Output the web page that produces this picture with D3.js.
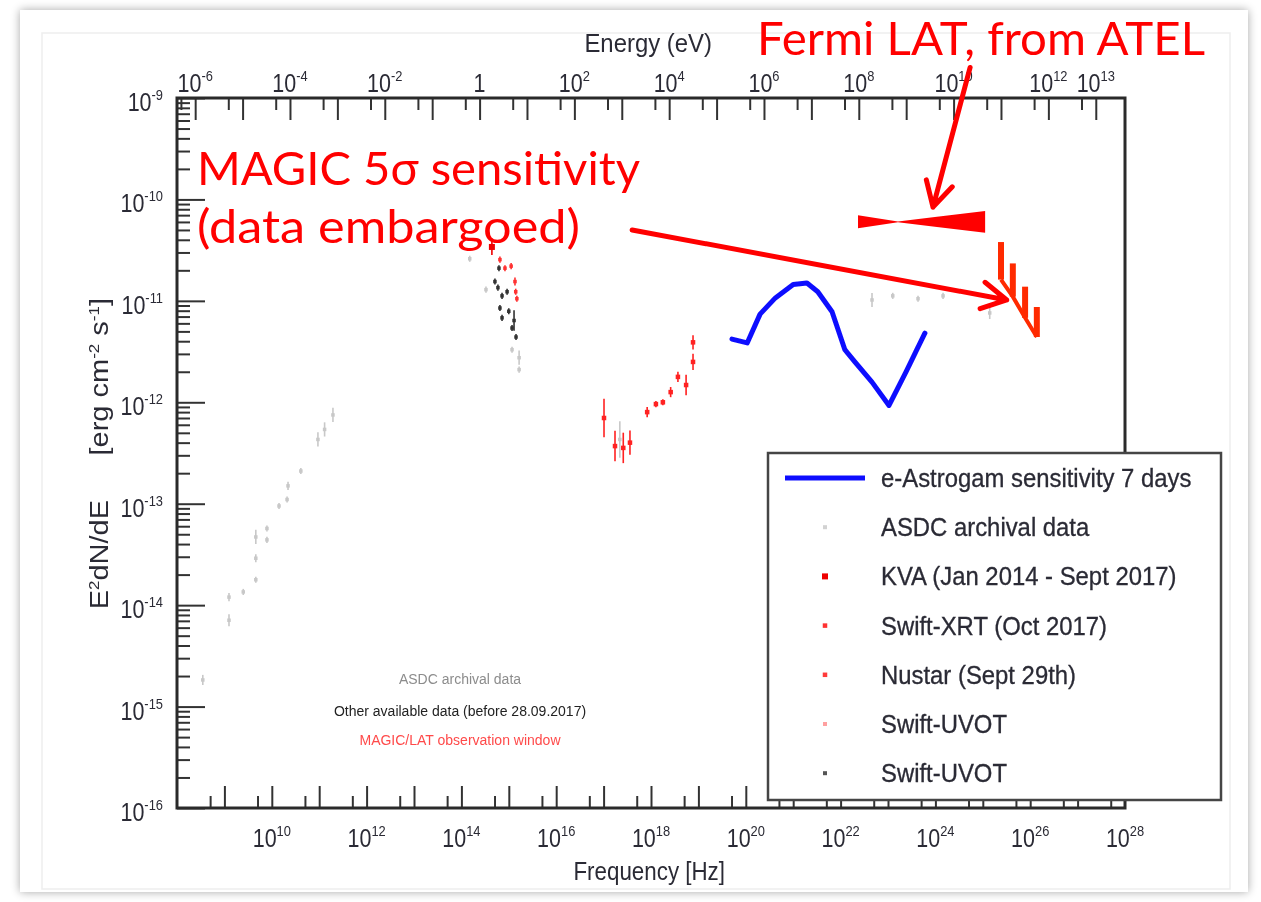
<!DOCTYPE html>
<html>
<head>
<meta charset="utf-8">
<script src="https://cdn.jsdelivr.net/npm/d3@7"></script>
<style>
  body { margin: 0; background: #fff; }
  svg { display: block; }
</style>
</head>
<body>
<div id="chart"></div>
<script>
// ---- values ----

// e-Astrogam sensitivity, 7 days (blue line)
const astrogamNu   = [5.1e19, 1.07e20, 2.0e20, 4.2e20, 1.0e21, 1.95e21, 3.3e21, 6.6e21, 1.23e22, 2.0e22, 4.6e22, 1.05e23, 2.4e23, 6.0e23];
const astrogamFlux = [4.2e-12, 3.85e-12, 7.4e-12, 1.07e-11, 1.45e-11, 1.5e-11, 1.23e-11, 7.8e-12, 3.3e-12, 2.5e-12, 1.58e-12, 9.3e-13, 2.0e-12, 4.8e-12];

// ASDC archival data (light grey), error half-width in dex
const asdcNu   = [3.5e8, 1.25e9, 1.25e9, 2.5e9, 4.6e9, 4.6e9, 4.6e9, 7.9e9, 7.9e9, 1.42e10, 2.1e10, 2.2e10, 4.1e10, 9.4e10, 1.3e11, 1.95e11,
                  1.5e14, 3.3e14, 1.17e15, 1.65e15, 1.65e15, 2.2e17, 4.6e22, 1.26e23, 4.3e23, 1.45e24, 1.4e25];
const asdcFlux = [1.83e-15, 1.2e-14, 7.1e-15, 1.35e-14, 4.7e-14, 2.9e-14, 1.78e-14, 5.7e-14, 4.4e-14, 9.5e-14, 1.1e-13, 1.5e-13, 2.1e-13, 4.3e-13, 5.4e-13, 7.5e-13,
                  2.6e-11, 1.29e-11, 3.3e-12, 2.75e-12, 2.1e-12, 4.3e-13, 1.02e-11, 1.12e-11, 1.05e-11, 1.12e-11, 7.6e-12];
const asdcErr  = [0.05, 0.04, 0.06, 0.03, 0.07, 0.04, 0.03, 0.03, 0.03, 0.03, 0.03, 0.04, 0.03, 0.07, 0.07, 0.07,
                  0.03, 0.03, 0.03, 0.07, 0.03, 0.18, 0.07, 0.03, 0.03, 0.03, 0.06];

// KVA (Jan 2014 - Sept 2017)
const kvaNu   = [4.4e14];
const kvaFlux = [3.4e-11];
const kvaErr  = [0.08];

// Swift-XRT (Oct 2017)
const xrtNu   = [1.02e17, 1.74e17, 2.6e17, 3.6e17, 8.3e17, 1.27e18, 1.78e18, 2.6e18, 3.7e18];
const xrtFlux = [7.0e-13, 3.7e-13, 3.55e-13, 4.0e-13, 8.0e-13, 9.6e-13, 1.0e-12, 1.26e-12, 1.78e-12];
const xrtErr  = [0.19, 0.15, 0.15, 0.12, 0.05, 0.03, 0.03, 0.05, 0.05];

// Nustar (Sept 29th)
const nustarNu   = [5.5e18, 7.7e18, 7.7e18];
const nustarFlux = [1.48e-12, 3.9e-12, 2.5e-12];
const nustarErr  = [0.1, 0.07, 0.08];

// Swift-UVOT (red)
const uvotRedNu   = [6.5e14, 8.3e14, 1.12e15, 1.35e15, 1.4e15, 1.48e15];
const uvotRedFlux = [2.55e-11, 2.1e-11, 2.2e-11, 1.55e-11, 1.23e-11, 1.05e-11];
const uvotRedErr  = [0.03, 0.03, 0.03, 0.04, 0.03, 0.03];

// Swift-UVOT (dark)
const uvotDarkNu   = [6.2e14, 5.1e14, 5.9e14, 7.2e14, 9.2e14, 6.5e14, 7.2e14, 1.0e15, 1.29e15, 1.17e15, 1.42e15];
const uvotDarkFlux = [2.1e-11, 1.55e-11, 1.35e-11, 1.12e-11, 1.23e-11, 8.5e-12, 6.8e-12, 7.9e-12, 6.4e-12, 5.4e-12, 4.4e-12];
const uvotDarkErr  = [0.03, 0.03, 0.03, 0.03, 0.03, 0.03, 0.03, 0.03, 0.1, 0.03, 0.03];

// Fermi LAT bowtie (from ATEL): low end, pivot, high end
const fermiNu    = [2.33e22, 1.62e23, 1.12e25];
const fermiUpper = [7.0e-11, 6.05e-11, 7.7e-11];
const fermiLower = [5.2e-11, 5.95e-11, 4.7e-11];

// MAGIC 5 sigma sensitivity bins
const magicNu     = [2.42e25, 4.3e25, 7.8e25, 1.38e26];
const magicTop    = [3.8e-11, 2.34e-11, 1.38e-11, 8.7e-12];
const magicBottom = [1.62e-11, 1.1e-11, 6.8e-12, 4.4e-12];

// axis ticks
const freqExponents   = [10, 12, 14, 16, 18, 20, 22, 24, 26, 28];
const energyExponents = [-6, -4, -2, 0, 2, 4, 6, 8, 10, 12, 13];
const fluxExponents   = [-9, -10, -11, -12, -13, -14, -15, -16];

// legend
const legendLabels = ['e-Astrogam sensitivity 7 days', 'ASDC archival data', 'KVA (Jan 2014 - Sept 2017)',
                      'Swift-XRT (Oct 2017)', 'Nustar (Sept 29th)', 'Swift-UVOT', 'Swift-UVOT'];

// ---- layout ----
const W = 1261, H = 902;
const plot = { left: 177, right: 1125, top: 98, bottom: 808 };
const eVperHz = 4.1357e-15;
const sq = 0.86; // ROOT text in the picture is horizontally squeezed
const inkDark = '#2b2b35';
const red = '#ff0000';

const x = d3.scaleLog().domain([1e8, 1e28]).range([plot.left, plot.right]);
const y = d3.scaleLog().domain([1e-16, 1e-9]).range([plot.bottom, plot.top]);

const svg = d3.select('#chart').append('svg')
    .attr('width', W)
    .attr('height', H)
    .style('font-family', '"Liberation Sans", Arial, sans-serif');

// slide frame / shadow
const defs = svg.append('defs');
const shadow = defs.append('filter').attr('id', 'shadow').attr('x', '-5%').attr('y', '-5%').attr('width', '110%').attr('height', '110%');
shadow.append('feGaussianBlur').attr('in', 'SourceAlpha').attr('stdDeviation', 5);
shadow.append('feComponentTransfer').append('feFuncA').attr('type', 'linear').attr('slope', 0.35);
const merge = shadow.append('feMerge');
merge.append('feMergeNode');
merge.append('feMergeNode').attr('in', 'SourceGraphic');
// the picture is a soft, slightly blurred screenshot
defs.append('filter').attr('id', 'soft')
    .append('feGaussianBlur').attr('stdDeviation', 0.55);

svg.append('rect').attr('width', W).attr('height', H).attr('fill', '#fff');
svg.append('rect')
    .attr('x', 20).attr('y', 10).attr('width', 1228).attr('height', 882)
    .attr('fill', '#fff')
    .attr('filter', 'url(#shadow)');
svg.append('rect')
    .attr('x', 42).attr('y', 33).attr('width', 1188).attr('height', 856)
    .attr('fill', 'none').attr('stroke', '#eeeeee').attr('stroke-width', 1.5);

const g = svg.append('g').attr('filter', 'url(#soft)');

// helper: "10^n" label, squeezed like the original
function powerLabel(parent, px, py, exp, anchor) {
    const t = parent.append('text')
        .attr('transform', `translate(${px},${py}) scale(${sq},1)`)
        .attr('text-anchor', anchor)
        .attr('fill', inkDark)
        .style('font-size', '25px');
    if (exp === 0) {
        t.text('1');
        return t;
    }
    t.append('tspan').text('10');
    t.append('tspan').attr('dy', -11).style('font-size', '15px').text(exp);
    return t;
}

// ---- axes (ticks point inwards, ROOT style) ----
const decadesX = d3.range(9, 28).map(e => Math.pow(10, e));
const minorX = d3.range(9, 29).map(e => 5 * Math.pow(10, e - 1));

g.append('g')
    .attr('transform', `translate(0,${plot.bottom})`)
    .call(d3.axisBottom(x).tickValues(decadesX).tickSize(-22).tickSizeOuter(0).tickFormat(''))
    .call(a => a.select('.domain').remove());
g.append('g')
    .attr('transform', `translate(0,${plot.bottom})`)
    .call(d3.axisBottom(x).tickValues(minorX).tickSize(-12).tickSizeOuter(0).tickFormat(''))
    .call(a => a.select('.domain').remove());

const energyMajor = d3.range(-6, 14).map(e => Math.pow(10, e) / eVperHz);
const energyMinor = d3.range(-6, 14).map(e => 0.5 * Math.pow(10, e) / eVperHz);
g.append('g')
    .attr('transform', `translate(0,${plot.top})`)
    .call(d3.axisTop(x).tickValues(energyMajor).tickSize(-22).tickSizeOuter(0).tickFormat(''))
    .call(a => a.select('.domain').remove());
g.append('g')
    .attr('transform', `translate(0,${plot.top})`)
    .call(d3.axisTop(x).tickValues(energyMinor.filter(v => v > 1e8)).tickSize(-12).tickSizeOuter(0).tickFormat(''))
    .call(a => a.select('.domain').remove());

const decadesY = d3.range(-16, -8).map(e => Math.pow(10, e));
const minorY = [];
d3.range(-16, -9).forEach(e => { for (let m = 2; m <= 9; m++) minorY.push(m * Math.pow(10, e)); });
g.append('g')
    .attr('transform', `translate(${plot.left},0)`)
    .call(d3.axisLeft(y).tickValues(decadesY).tickSize(-28).tickSizeOuter(0).tickFormat(''))
    .call(a => a.select('.domain').remove());
g.append('g')
    .attr('transform', `translate(${plot.left},0)`)
    .call(d3.axisLeft(y).tickValues(minorY).tickSize(-13).tickSizeOuter(0).tickFormat(''))
    .call(a => a.select('.domain').remove());

g.selectAll('.tick line').attr('stroke', '#333').attr('stroke-width', 2);

// frame
g.append('rect')
    .attr('x', plot.left).attr('y', plot.top)
    .attr('width', plot.right - plot.left).attr('height', plot.bottom - plot.top)
    .attr('fill', 'none').attr('stroke', '#2a2a2a').attr('stroke-width', 3);

// tick labels
freqExponents.forEach(e => powerLabel(g, x(Math.pow(10, e)), plot.bottom + 39, e, 'middle'));
energyExponents.forEach(e => powerLabel(g, x(Math.pow(10, e) / eVperHz), plot.top - 6, e, 'middle'));
fluxExponents.forEach(e => powerLabel(g, 163, y(Math.pow(10, e)) + 13, e, 'end'));

// axis titles
g.append('text')
    .attr('transform', `translate(725,880) scale(${sq},1)`)
    .attr('text-anchor', 'end').attr('fill', inkDark).style('font-size', '26px')
    .text('Frequency [Hz]');
g.append('text')
    .attr('transform', 'translate(712,52) scale(0.92,1)')
    .attr('text-anchor', 'end').attr('fill', inkDark).style('font-size', '26px')
    .text('Energy (eV)');

// y title: two pieces, rotated, glyph height squeezed like the rest.
// parts: [text, isSuperscript]
function richText(t, parts) {
    let raised = false;
    parts.forEach(([s, isSup]) => {
        const ts = t.append('tspan').text(s);
        if (isSup && !raised) { ts.attr('dy', -10).style('font-size', '17px'); raised = true; }
        else if (isSup) { ts.style('font-size', '17px'); }
        else if (raised) { ts.attr('dy', 10); raised = false; }
    });
}
const yUnit = g.append('text')
    .attr('transform', `translate(108,298) rotate(-90) scale(1,${sq})`)
    .attr('text-anchor', 'end').attr('fill', inkDark).style('font-size', '29px');
richText(yUnit, [['[erg cm', false], ['-2', true], [' s', false], ['-1', true], [']', false]]);

const yName = g.append('text')
    .attr('transform', `translate(108,500) rotate(-90) scale(1,${sq})`)
    .attr('text-anchor', 'end').attr('fill', inkDark).style('font-size', '29px');
richText(yName, [['E', false], ['2', true], ['dN/dE', false]]);

// ---- data points ----
function drawPoints(nu, flux, err, color, size) {
    const pts = nu.map((v, i) => ({ nu: v, flux: flux[i], err: err[i] }));
    const grp = g.append('g');
    grp.selectAll('line')
        .data(pts)
        .enter().append('line')
        .attr('x1', d => x(d.nu)).attr('x2', d => x(d.nu))
        .attr('y1', d => y(d.flux * Math.pow(10, d.err)))
        .attr('y2', d => y(d.flux / Math.pow(10, d.err)))
        .attr('stroke', color).attr('stroke-width', 1.6);
    grp.selectAll('rect')
        .data(pts)
        .enter().append('rect')
        .attr('x', d => x(d.nu) - size / 2)
        .attr('y', d => y(d.flux) - size / 2)
        .attr('width', size).attr('height', size)
        .attr('fill', color);
}

drawPoints(asdcNu, asdcFlux, asdcErr, '#c8c8c8', 3.5);
drawPoints(uvotDarkNu, uvotDarkFlux, uvotDarkErr, '#333333', 3.5);
drawPoints(uvotRedNu, uvotRedFlux, uvotRedErr, '#ff3030', 3.5);
drawPoints(kvaNu, kvaFlux, kvaErr, '#ee0000', 6);
drawPoints(xrtNu, xrtFlux, xrtErr, '#ff2020', 4.5);
drawPoints(nustarNu, nustarFlux, nustarErr, '#ff2020', 4.5);

// e-Astrogam sensitivity
const astrogam = astrogamNu.map((v, i) => ({ nu: v, flux: astrogamFlux[i] }));
g.append('path')
    .datum(astrogam)
    .attr('fill', 'none')
    .attr('stroke', '#1010ff')
    .attr('stroke-width', 5)
    .attr('stroke-linejoin', 'round')
    .attr('stroke-linecap', 'round')
    .attr('d', d3.line().x(d => x(d.nu)).y(d => y(d.flux)));

// Fermi LAT bowtie
const bowtie = fermiNu.map((v, i) => [x(v), y(fermiUpper[i])])
    .concat(fermiNu.map((v, i) => [x(v), y(fermiLower[i])]).reverse());
g.append('path')
    .attr('d', d3.line()(bowtie) + 'Z')
    .attr('fill', '#ff0000');

// MAGIC sensitivity sawtooth
const magicColor = '#ff2a00';
g.append('path')
    .datum(magicNu.map((v, i) => [x(v), y(magicBottom[i])]))
    .attr('fill', 'none').attr('stroke', magicColor).attr('stroke-width', 4)
    .attr('d', d3.line());
g.selectAll('.magic-bar')
    .data(magicNu)
    .enter().append('line')
    .attr('class', 'magic-bar')
    .attr('x1', d => x(d)).attr('x2', d => x(d))
    .attr('y1', (d, i) => y(magicTop[i]))
    .attr('y2', (d, i) => y(magicBottom[i]))
    .attr('stroke', magicColor).attr('stroke-width', 6);

// ---- small ROOT text block ----
const notes = [
    { text: 'ASDC archival data', color: '#8c8c8c', yy: 684 },
    { text: 'Other available data (before 28.09.2017)', color: '#222', yy: 716 },
    { text: 'MAGIC/LAT observation window', color: '#ff4a4a', yy: 745 }
];
notes.forEach(n => {
    g.append('text')
        .attr('x', 460).attr('y', n.yy)
        .attr('text-anchor', 'middle')
        .attr('fill', n.color)
        .style('font-size', '14px')
        .text(n.text);
});

// ---- legend ----
const legend = g.append('g');
legend.append('rect')
    .attr('x', 768).attr('y', 453).attr('width', 453).attr('height', 347)
    .attr('fill', '#fff').attr('stroke', '#444').attr('stroke-width', 2.5);
const legendMarkers = [
    { color: '#1010ff', size: 0 },
    { color: '#d2d2d2', size: 4 },
    { color: '#ee0000', size: 6 },
    { color: '#ff3030', size: 4.5 },
    { color: '#ff3a3a', size: 4.5 },
    { color: '#ffa0a0', size: 4 },
    { color: '#555555', size: 4 }
];
legendLabels.forEach((label, i) => {
    const ly = 478 + i * 49.2;
    const m = legendMarkers[i];
    if (i === 0) {
        legend.append('line')
            .attr('x1', 785).attr('x2', 865).attr('y1', ly).attr('y2', ly)
            .attr('stroke', m.color).attr('stroke-width', 5);
    } else {
        legend.append('rect')
            .attr('x', 825 - m.size / 2).attr('y', ly - m.size / 2)
            .attr('width', m.size).attr('height', m.size)
            .attr('fill', m.color);
    }
    legend.append('text')
        .attr('transform', `translate(881,${ly + 9}) scale(0.955,1)`)
        .attr('fill', inkDark)
        .attr('stroke', inkDark).attr('stroke-width', 0.3)
        .style('font-size', '25px')
        .text(label);
});

// ---- red slide annotations ----
const ann = svg.append('g')
    .style('font-family', 'Lato, "Open Sans", sans-serif')
    .attr('fill', red);
ann.append('text').attr('x', 757).attr('y', 55).style('font-size', '46px')
    .attr('textLength', 448).attr('lengthAdjust', 'spacingAndGlyphs')
    .text('Fermi LAT, from ATEL');
ann.append('text').attr('x', 197).attr('y', 185).style('font-size', '46px')
    .attr('textLength', 443).attr('lengthAdjust', 'spacingAndGlyphs')
    .text('MAGIC 5σ sensitivity');
ann.append('text').attr('x', 197).attr('y', 243).style('font-size', '46px')
    .attr('textLength', 383).attr('lengthAdjust', 'spacingAndGlyphs')
    .text('(data embargoed)');

// arrows, anchored in data space
const arrows = [
    { from: [5.4e24, 2.0e-9], to: [8.9e23, 8.4e-11] },
    { from: [4.0e17, 5.0e-11], to: [3.2e25, 1.02e-11] }
];
arrows.forEach(a => {
    const x0 = x(a.from[0]), y0 = y(a.from[1]);
    const x1 = x(a.to[0]), y1 = y(a.to[1]);
    const ang = Math.atan2(y1 - y0, x1 - x0);
    const head = 28, spread = 0.5;
    const p1 = [x1 - head * Math.cos(ang - spread), y1 - head * Math.sin(ang - spread)];
    const p2 = [x1 - head * Math.cos(ang + spread), y1 - head * Math.sin(ang + spread)];
    svg.append('path')
        .attr('d', `M${x0},${y0}L${x1},${y1}M${p1[0]},${p1[1]}L${x1},${y1}L${p2[0]},${p2[1]}`)
        .attr('fill', 'none').attr('stroke', red).attr('stroke-width', 5)
        .attr('stroke-linecap', 'round').attr('stroke-linejoin', 'round');
});
</script>
</body>
</html>
